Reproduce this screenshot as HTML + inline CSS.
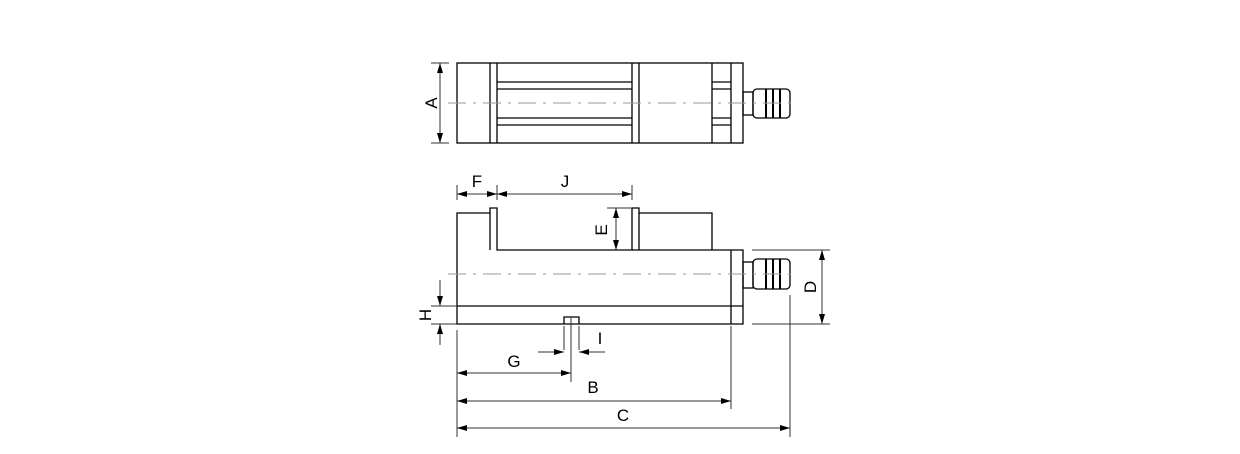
<!DOCTYPE html>
<html><head><style>html,body{margin:0;padding:0;background:#fff}svg{display:block}</style></head><body>
<svg width="1240" height="454" viewBox="0 0 1240 454" xmlns="http://www.w3.org/2000/svg" font-family="Liberation Sans, sans-serif" font-size="17">
<defs>
<marker id="ar" viewBox="0 0 10 6" refX="10" refY="3" markerWidth="10" markerHeight="6" orient="auto-start-reverse" markerUnits="userSpaceOnUse"><path d="M0,0L10,3L0,6z" fill="#000"/></marker>
</defs>
<g fill="none" stroke="#000" stroke-width="1.3">
<rect x="457" y="63" width="286" height="80"/>
<path d="M490,63V143M497,63V143M632,63V143M639,63V143M712,63V143M731,63V143"/>
<path d="M497,82H632M497,89H632M497,118H632M497,125H632M712,82H731M712,89H731M712,118H731M712,125H731"/>
<rect x="743" y="92" width="10" height="23"/>
<rect x="753" y="89" width="37" height="29" rx="4"/>
<path d="M766,89V118M773,89V118M780,89V118" stroke-width="2"/>
<path d="M457,213H490V208H497V250H632V208H639V213H712V250H743V324H457Z"/>
<path d="M490,213V250M632,250H712M639,213V250M731,250V324M457,306H743"/>
<path d="M564,324V317H579V324" />
<rect x="743" y="262" width="10" height="26"/>
<rect x="753" y="259" width="37" height="30" rx="4"/>
<path d="M766,259V289M773,259V289M780,259V289" stroke-width="2"/>
</g>
<g stroke="#999" stroke-width="1" stroke-dasharray="18,7,3,7" fill="none">
<path d="M448,103H795M448,274H795"/>
</g>
<g stroke="#333" stroke-width="1" fill="none">
<path d="M431,63H449M431,143H449"/>
<path d="M440,63V143" marker-start="url(#ar)" marker-end="url(#ar)"/>
<path d="M457,185V200M497,185V200M632,185V200"/>
<path d="M457,194H497" marker-start="url(#ar)" marker-end="url(#ar)"/>
<path d="M497,194H632" marker-start="url(#ar)" marker-end="url(#ar)"/>
<path d="M607,208H632"/>
<path d="M616,208V250" marker-start="url(#ar)" marker-end="url(#ar)"/>
<path d="M752,250H830M752,324H830"/>
<path d="M822,250V324" marker-start="url(#ar)" marker-end="url(#ar)"/>
<path d="M431,306H457M431,324H457"/>
<path d="M440,280V306" marker-end="url(#ar)"/>
<path d="M440,345V324" marker-end="url(#ar)"/>
<path d="M564,326V350M579,326V350M571,317V382"/>
<path d="M538,352H564" marker-end="url(#ar)"/>
<path d="M605,352H579" marker-end="url(#ar)"/>
<path d="M457,330V437M731,326V409M790,295V437"/>
<path d="M457,373H571" marker-start="url(#ar)" marker-end="url(#ar)"/>
<path d="M457,401H731" marker-start="url(#ar)" marker-end="url(#ar)"/>
<path d="M457,428H790" marker-start="url(#ar)" marker-end="url(#ar)"/>
</g>
<g fill="#000" text-anchor="middle">
<text x="431" y="103" transform="rotate(-90 431 103)" dy="6">A</text>
<text x="477" y="187">F</text>
<text x="565" y="187">J</text>
<text x="601" y="230" transform="rotate(-90 601 230)" dy="6">E</text>
<text x="810" y="287" transform="rotate(-90 810 287)" dy="6">D</text>
<text x="425" y="315" transform="rotate(-90 425 315)" dy="6">H</text>
<text x="600" y="344">I</text>
<text x="514" y="367">G</text>
<text x="593" y="393">B</text>
<text x="623" y="421">C</text>
</g>
</svg>
</body></html>
